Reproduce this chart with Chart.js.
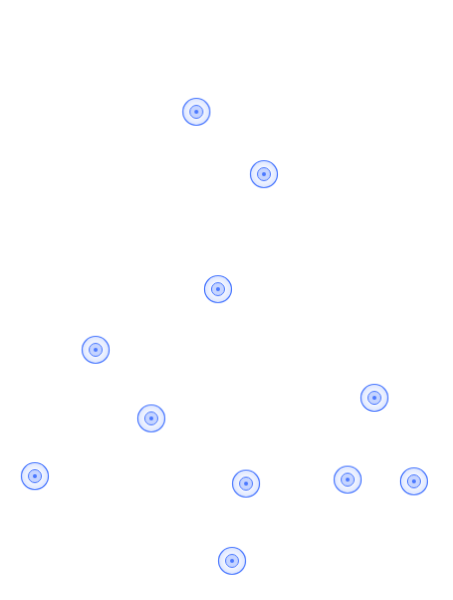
<!DOCTYPE html>
<html>
<head>
<meta charset="utf-8">
<script src="https://cdn.jsdelivr.net/npm/chart.js@4/dist/chart.umd.min.js"></script>
<style>
html,body{margin:0;padding:0;background:#fff;}
#wrap{width:453px;height:600px;}
</style>
</head>
<body>
<div id="wrap"><canvas id="c" width="453" height="600"></canvas></div>
<script>
const xValues = [42.9, 58.8, 48.0, 19.2, 84.8, 32.3, 4.9, 54.6, 78.5, 94.1, 51.3];
const yValues = [82.9, 72.0, 51.9, 41.3, 32.9, 29.3, 19.2, 17.9, 18.6, 18.3, 4.4];

const points = xValues.map((x, i) => ({x: x, y: yValues[i]}));

function makeMarker() {
  const s = 32, c = s / 2;
  const cv = document.createElement('canvas');
  cv.width = s; cv.height = s;
  const g = cv.getContext('2d');
  const grad = g.createRadialGradient(c, c, 5, c, c, 13.5);
  grad.addColorStop(0, 'rgba(77,124,255,0.03)');
  grad.addColorStop(1, 'rgba(77,124,255,0.2)');
  g.beginPath(); g.arc(c, c, 13.5, 0, Math.PI * 2);
  g.fillStyle = grad; g.fill();
  g.lineWidth = 1.2; g.strokeStyle = '#4a78ff'; g.stroke();
  g.beginPath(); g.arc(c, c, 6.5, 0, Math.PI * 2);
  g.fillStyle = 'rgba(77,124,255,0.3)'; g.fill();
  g.lineWidth = 1; g.strokeStyle = '#4a78ff'; g.stroke();
  g.beginPath(); g.arc(c, c, 2, 0, Math.PI * 2);
  g.fillStyle = '#4a78ff'; g.fill();
  return cv;
}

new Chart(document.getElementById('c'), {
  type: 'scatter',
  data: {
    datasets: [{
      data: points,
      pointStyle: makeMarker(),
      pointRadius: 13,
      pointHoverRadius: 13
    }]
  },
  options: {
    responsive: false,
    animation: false,
    layout: {padding: 0},
    plugins: {legend: {display: false}, tooltip: {enabled: false}},
    scales: {
      x: {type: 'linear', min: 0, max: 100, display: false},
      y: {type: 'linear', min: 0, max: 100, display: false}
    }
  }
});
</script>
</body>
</html>
